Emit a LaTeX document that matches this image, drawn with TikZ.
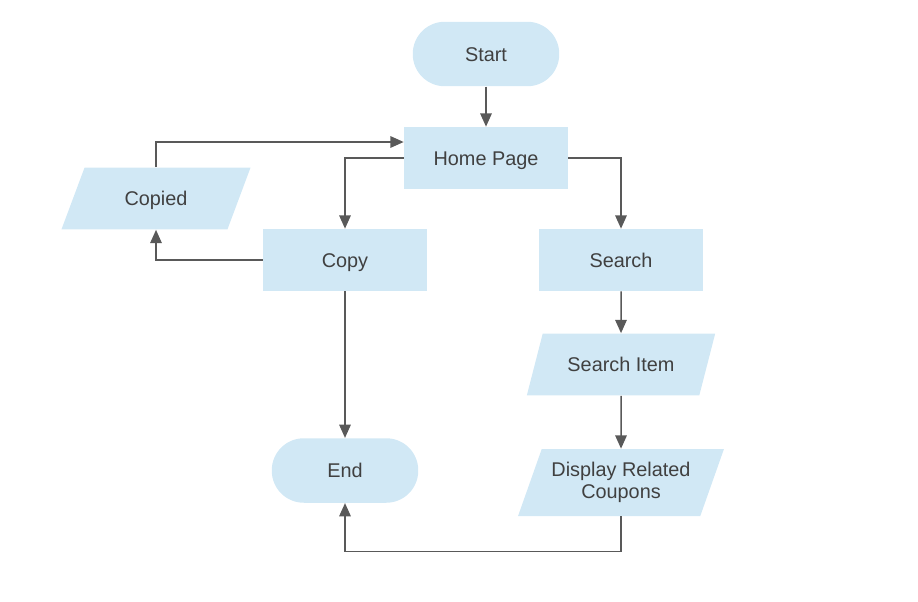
\documentclass[tikz,border=0pt]{standalone}
\usepackage{fontspec}
\setmainfont{Liberation Sans}
\usepackage{tikz}
\usetikzlibrary{calc,positioning,arrows.meta,shapes}
\definecolor{boxblue}{HTML}{D1E8F5}
\definecolor{txtgray}{HTML}{404040}
\definecolor{linegray}{HTML}{595959}
\tikzstyle{oneline}   = [text height=8.1pt, text depth=0pt]
\tikzstyle{term}      = [rectangle, rounded corners=0.64cm, minimum width=2.93cm, minimum height=1.29cm, text centered, oneline, fill=boxblue, text=txtgray]
\tikzstyle{process}   = [rectangle, minimum width=3.28cm, minimum height=1.24cm, text centered, oneline, fill=boxblue, text=txtgray]
\tikzstyle{io}        = [trapezium, trapezium left angle=65, trapezium right angle=115, trapezium stretches=true, minimum width=3.8cm, minimum height=1.24cm, text centered, align=center, fill=boxblue, text=txtgray]
\tikzstyle{arrow}     = [line width=0.85pt, draw=linegray, -{Triangle[length=7.5pt,width=6.5pt]}]

\begin{document}
\begin{tikzpicture}[x=0.02cm, y=-0.02cm, font=\fontsize{11.3}{12.4}\selectfont]
		\useasboundingbox (0,0) rectangle (918,601);
		\node[term] (start) at (486,54) {Start};
		\node[process] (home) at (486,158) {Home Page};
		\node[io, oneline] (copied) at (156,198.5) {Copied};
		\node[process] (copy) at (345,260) {Copy};
		\node[process] (search) at (621,260) {Search};
		\node[io, oneline] (item) at (621,364.5) {Search Item};
		\node[io, minimum width=4.12cm, minimum height=1.34cm, trapezium left angle=66.6, trapezium right angle=113.4] (display) at (621,482.5) {Display Related\\Coupons};
		\node[term] (end) at (345,470.5) {End};

		\draw[arrow] (start) -- (home);
		\draw[arrow] (home.west) -| (copy.north);
		\draw[arrow] (home.east) -| (search.north);
		\draw[arrow] (copy.west) -| (copied.south);
		\draw[arrow] (copied.north) |- ([yshift=0.32cm]home.west);
		\draw[arrow] (copy) -- (end);
		\draw[arrow] (search) -- (item);
		\draw[arrow] (item) -- (display);
		\draw[arrow] (display.south) -- ++(0,-0.7cm) -| (end.south);
	\end{tikzpicture}
\end{document}
